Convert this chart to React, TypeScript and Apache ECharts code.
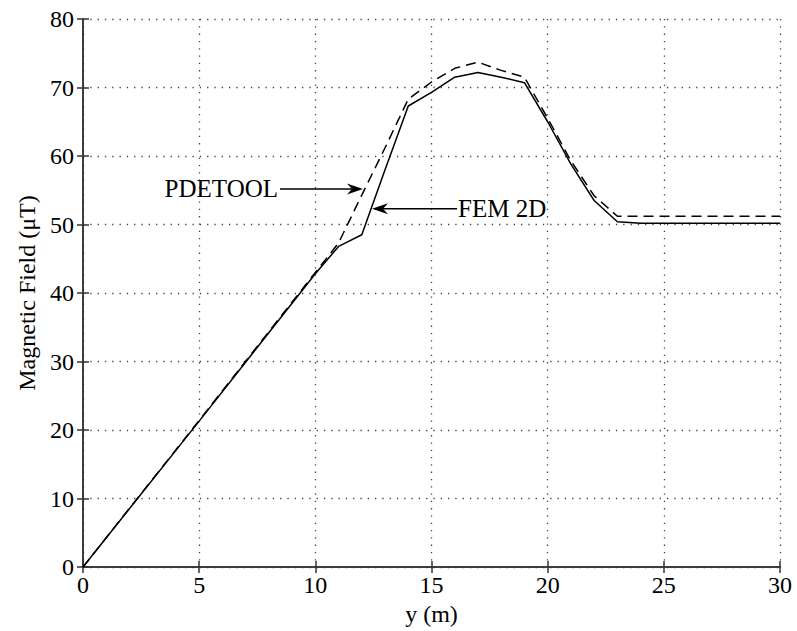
import React, { useEffect, useRef } from "react";
import * as echarts from "echarts";

const xTicks = [0, 5, 10, 15, 20, 25, 30];
const yTicks = [0, 10, 20, 30, 40, 50, 60, 70, 80];

const femX = [0, 5, 10, 11, 12, 13, 14, 15, 16, 17, 18, 19, 20, 21, 22, 23, 24, 30];
const femY = [0, 21.3, 42.8, 46.8, 48.5, 58, 67.3, 69.3, 71.5, 72.2, 71.5, 70.7, 65, 58.8, 53.5, 50.4, 50.2, 50.2];

const pdeX = [0, 5, 10, 11, 12, 13, 14, 15, 16, 17, 18, 19, 20, 21, 22, 23, 24, 30];
const pdeY = [0, 21.4, 43, 47.3, 54.3, 61.2, 68.3, 70.8, 72.8, 73.7, 72.5, 71.5, 65.5, 59.3, 54.2, 51.2, 51.2, 51.2];

const pdeLabel = "PDETOOL";
const femLabel = "FEM 2D";
// annotation anchors in data coordinates: [arrow tail x, arrow tip x, y]
const pdeArrow = [8.48, 12.05, 55.2];
const femArrow = [16.1, 12.44, 52.3];

const FONT = "'Liberation Serif', 'Times New Roman', serif";

function arrowHead(tip: number[], dir: number) {
  const L = 16;
  const W = 5.5;
  const N = 11;
  const [tx, ty] = tip;
  return [
    [tx, ty],
    [tx - dir * L, ty - W],
    [tx - dir * N, ty],
    [tx - dir * L, ty + W],
  ];
}

export default function App() {
  const ref = useRef<HTMLDivElement>(null);
  useEffect(() => {
    if (!ref.current) return;
    const chart = echarts.init(ref.current, undefined, { renderer: "svg" });
    const axisLine = { show: true, lineStyle: { color: "#333", width: 1.5 } };
    const tick = { show: true, inside: true, length: 6, lineStyle: { color: "#333", width: 1.5 } };
    const split = { show: true, lineStyle: { color: "#444", width: 1.3, type: [1.3, 6] as any } };
    const labelStyle = { color: "#000", fontFamily: FONT, fontSize: 24 };
    chart.setOption({
      animation: false,
      backgroundColor: "#fff",
      grid: { left: 83, right: 17, top: 19, bottom: 64, containLabel: false },
      xAxis: [
        {
          type: "value", min: 0, max: 30, interval: 5,
          axisLine, axisTick: tick, splitLine: split,
          axisLabel: { ...labelStyle, margin: 6, formatter: (v: number) => (xTicks.includes(v) ? String(v) : "") },
          name: "y (m)", nameLocation: "middle", nameGap: 31,
          nameTextStyle: { color: "#000", fontFamily: FONT, fontSize: 24 },
        },
        {
          type: "value", min: 0, max: 30, interval: 5, position: "top",
          axisLine, axisTick: tick, splitLine: { show: false }, axisLabel: { show: false },
        },
      ],
      yAxis: [
        {
          type: "value", min: 0, max: 80, interval: 10,
          axisLine, axisTick: tick, splitLine: split,
          axisLabel: { ...labelStyle, margin: 9, formatter: (v: number) => (yTicks.includes(v) ? String(v) : "") },
          name: "Magnetic Field (\u03BCT)", nameLocation: "middle", nameGap: 43,
          nameTextStyle: { color: "#000", fontFamily: FONT, fontSize: 24 },
        },
        {
          type: "value", min: 0, max: 80, interval: 10, position: "right",
          axisLine, axisTick: tick, splitLine: { show: false }, axisLabel: { show: false },
        },
      ],
      series: [
        {
          name: femLabel, type: "line", showSymbol: false, symbol: "none",
          data: femX.map((x, i) => [x, femY[i]]),
          lineStyle: { color: "#000", width: 1.5, type: "solid" },
        },
        {
          name: pdeLabel, type: "line", showSymbol: false, symbol: "none",
          data: pdeX.map((x, i) => [x, pdeY[i]]),
          lineStyle: { color: "#000", width: 1.5, type: [10, 6] as any },
        },
      ],
    });

    const p = (x: number, y: number) => chart.convertToPixel({ gridIndex: 0 }, [x, y]) as number[];
    const pTail = p(pdeArrow[0], pdeArrow[2]);
    const pTip = p(pdeArrow[1], pdeArrow[2]);
    const fTail = p(femArrow[0], femArrow[2]);
    const fTip = p(femArrow[1], femArrow[2]);

    chart.setOption({
      graphic: [
        {
          type: "line", shape: { x1: pTail[0], y1: pTail[1], x2: pTip[0] - 10, y2: pTip[1] },
          style: { stroke: "#000", lineWidth: 1.5 },
        },
        {
          type: "polygon", shape: { points: arrowHead(pTip, 1) }, style: { fill: "#000" },
        },
        {
          type: "text", x: pTail[0] - 2, y: pTail[1],
          style: { text: pdeLabel, fill: "#000", font: `25px ${FONT}`, align: "right", verticalAlign: "middle" },
        },
        {
          type: "line", shape: { x1: fTail[0], y1: fTail[1], x2: fTip[0] + 10, y2: fTip[1] },
          style: { stroke: "#000", lineWidth: 1.5 },
        },
        {
          type: "polygon", shape: { points: arrowHead(fTip, -1) }, style: { fill: "#000" },
        },
        {
          type: "text", x: fTail[0] + 1, y: fTail[1],
          style: { text: femLabel, fill: "#000", font: `25px ${FONT}`, align: "left", verticalAlign: "middle" },
        },
      ],
    });
    return () => chart.dispose();
  }, []);
  return <div ref={ref} style={{ width: 797, height: 631, position: "absolute", left: 0, top: 0 }} />;
}
